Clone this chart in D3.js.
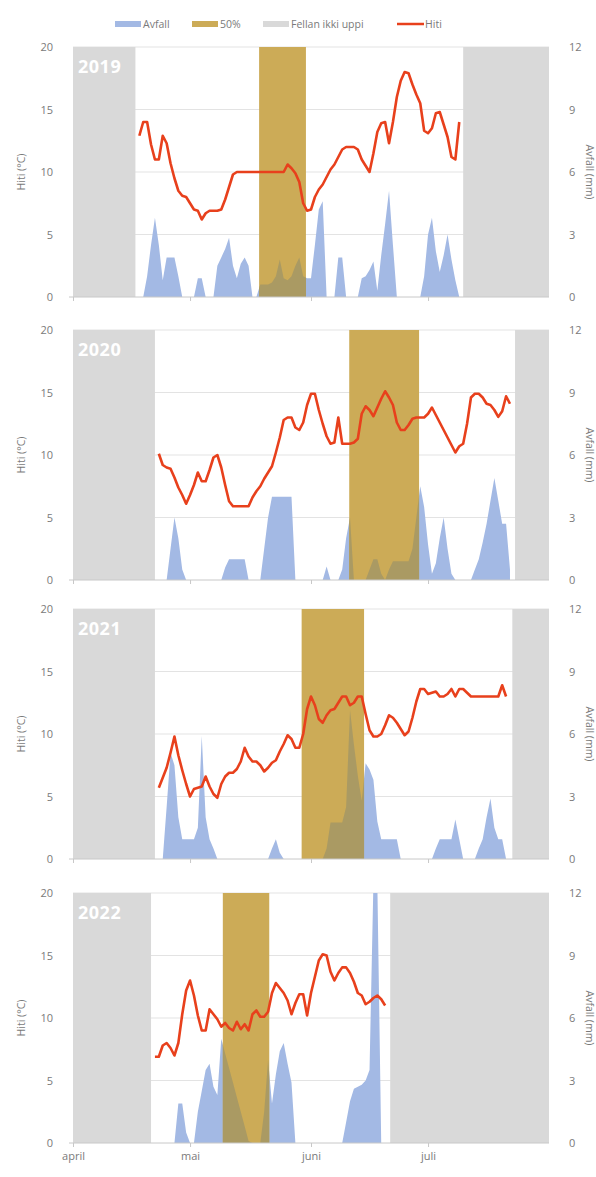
<!DOCTYPE html>
<html><head><meta charset="utf-8">
<script src="https://cdn.jsdelivr.net/npm/d3@7"></script>
<style>
html,body{margin:0;padding:0;background:#fff;}
svg text{font-family:"Open Sans","Noto Sans",sans-serif;fill:#7a7a7a;}
</style></head><body>
<svg id="c" width="596" height="1177"></svg>
<script>
// ---------------- data ----------------
const years = ["2019","2020","2021","2022"];
const monthLabels = ["april","mai","juni","juli"];
const monthStarts = ["04-01","05-01","06-01","07-01"];
const leftTicks = [0,5,10,15,20];
const rightTicks = [0,3,6,9,12];
const legendLabels = ["Avfall","50%","Fellan ikki uppi","Hiti"];

// first day with data (day count since 1 April) for each year
const dataStart = {"2019":17,"2020":22,"2021":22,"2022":21};
// periods "Fellan ikki uppi" (day counts since 1 April)
const notUpBefore = {"2019":16,"2020":21,"2021":21,"2022":20};
const notUpAfter  = {"2019":100,"2020":113.3,"2021":112.6,"2022":81.3};
// 50% period
const halfStart = {"2019":47.7,"2020":70.8,"2021":58.6,"2022":38.4};
const halfEnd   = {"2019":59.7,"2020":88.7,"2021":74.6,"2022":50.3};

const temp2019 = [12.9,14.0,14.0,12.2,11.0,11.0,12.9,12.3,10.7,9.5,8.5,8.1,8.0,7.5,7.0,6.9,6.2,6.7,6.9,6.9,6.9,7.0,7.8,8.8,9.8,
 10,10,10,10,10,10,10,10,10,10,10,10,10,10.6,10.3,9.9,9.2,7.5,6.9,7.0,8.0,8.6,9.0,9.6,10.2,10.6,11.2,11.8,12,12,12,11.8,11.0,10.5,10.0,
 11.5,13.2,13.9,14.0,12.3,14.0,16.0,17.3,18.0,17.9,17.0,16.2,15.5,13.3,13.1,13.5,14.7,14.8,13.8,12.8,11.2,11.0,14.0];
const rain2019 = [0,0,1.0,2.5,3.8,2.5,0.8,1.9,1.9,1.9,1.0,0,0,0,0,0.9,0.9,0,0,0,1.5,1.9,2.3,2.85,1.5,0.9,1.6,1.9,1.5,0,0,
 0.6,0.6,0.6,0.7,1.0,1.8,0.9,0.8,1.0,1.5,1.9,1.0,0.9,0.9,2.5,4.2,4.6,0,0,0,1.9,1.9,0,0,0,0,0.9,1.0,1.3,1.7,0.3,2.0,3.5,5.1,2.5,
 0,0,0,0,0,0,0,1.0,3.0,3.8,2.2,1.2,2.0,3.0,1.8,0.8,0];

const temp2020 = [10.1,9.2,9.0,8.9,8.2,7.4,6.8,6.1,6.8,7.6,8.6,7.9,7.9,8.8,9.8,10.0,9.0,7.6,6.3,5.9,5.9,5.9,5.9,5.9,6.6,7.1,7.5,8.1,8.6,9.1,
 10.2,11.4,12.8,13.0,13.0,12.2,12.0,12.6,14.0,14.9,14.9,13.6,12.5,11.5,10.9,11.0,13.0,10.9,10.9,10.9,11.0,11.3,13.3,13.9,13.6,13.1,13.8,14.5,15.1,14.6,
 14.0,12.6,12.0,12.0,12.4,12.9,13.0,13.0,13.0,13.3,13.8,13.2,12.6,12.0,11.4,10.8,10.2,10.7,10.9,12.5,14.6,14.9,14.9,14.6,14.1,14.0,13.6,13.05,13.5,14.7,14.1];
const rain2020 = [0,0,0,1.5,3.0,2.0,0.5,0,0,0,0,0,0,0,0,0,0,0.6,1.0,1.0,1.0,1.0,1.0,0,0,0,0,1.5,3.0,4.0,4.0,4.0,4.0,4.0,4.0,0,
 0,0,0,0,0,0,0,0.65,0,0,0,0.5,2.0,3.0,0,0,0,0,0.5,1.0,1.0,0.3,0,0.5,0.9,0.9,0.9,0.9,0.9,1.5,3.0,4.5,3.5,1.7,0.3,0.8,2.0,3.0,1.5,0.3,
 0,0,0,0,0,0.5,1.0,1.8,2.7,3.8,4.9,3.8,2.7,2.7,0.5];

const temp2021 = [5.7,6.5,7.3,8.5,9.8,8.3,7.1,6.0,5.0,5.6,5.7,5.8,6.6,5.8,5.2,4.9,6.0,6.6,6.9,6.9,7.2,7.8,8.9,8.2,7.8,7.8,7.5,7.0,7.3,7.7,
 7.9,8.6,9.2,9.9,9.6,8.9,8.9,10.0,12.0,13.0,12.3,11.2,10.9,11.5,11.9,12.0,12.5,13.0,13.0,12.3,12.5,13.0,13.0,11.6,10.3,9.8,9.8,10.0,10.7,11.5,
 11.3,10.9,10.4,9.9,10.2,11.3,12.6,13.6,13.6,13.2,13.3,13.4,13.0,13.0,13.2,13.6,13.0,13.6,13.6,13.3,13.0,13.0,13.0,13.0,13.0,13.0,13.0,13.0,13.9,13.0];
const rain2021 = [0,0,2.5,5.1,4.5,2.0,0.95,0.95,0.95,0.95,1.5,5.9,2.0,0.95,0.5,0,0,0,0,0,0,0,0,0,0,0,0,0,0,0.5,0.95,0.3,
 0,0,0,0,0,0,0,0,0,0,0,0.5,1.75,1.75,1.75,1.75,2.5,7.15,5.5,4.0,2.8,4.6,4.3,3.8,1.8,0.95,0.95,0.95,0.95,0.95,0,
 0,0,0,0,0,0,0,0,0.5,0.95,0.95,0.95,0.95,1.9,0.95,0,0,0,0,0.5,0.95,2.0,2.9,1.5,0.95,0.95,0];

const temp2022 = [6.9,6.9,7.8,8.0,7.6,7.0,8.0,10.3,12.2,13.0,11.8,10.2,9.0,9.0,10.7,10.3,9.9,9.3,9.6,9.2,9.0,9.7,9.1,9.5,9.0,10.3,10.6,10.1,10.1,10.5,
 12.0,12.8,12.4,12.0,11.4,10.3,11.2,11.9,11.9,10.2,12.0,13.3,14.6,15.1,15.0,13.7,13.0,13.6,14.05,14.05,13.6,12.9,12.0,11.8,11.1,11.3,11.6,11.8,11.5,11.0];
const rain2022 = [0,0,0,0,0,0,1.9,1.9,0.5,0,0,1.5,2.5,3.5,3.8,2.7,2.3,5.0,4.3,3.6,2.9,2.2,1.5,0.8,0.1,0,0,0,1.5,4.0,1.9,3.3,4.4,4.8,3.8,2.9,
 0,0,0,0,0,0,0,0,0,0,0,0,0,1.0,2.0,2.6,2.7,2.8,3.0,3.5,13,13,0];

const temps = {"2019":temp2019,"2020":temp2020,"2021":temp2021,"2022":temp2022};
const rains = {"2019":rain2019,"2020":rain2020,"2021":rain2021,"2022":rain2022};

// ---------------- layout ----------------
const svg = d3.select("#c");
const plotL = 73, plotR = 549;
const panelTops = [47, 330, 609, 893];
const panelH = 250;
const BLUE = "#a3b9e4", YELLOW = "#ccab57", OLIVE = "#aa9a63", GREY = "#d9d9d9", RED = "#e8401c";
const FONT = '"Open Sans","Noto Sans",sans-serif';

const season0 = new Date(Date.UTC(2000,3,1));
const season1 = new Date(Date.UTC(2000,7,1));
const x = d3.scaleUtc().domain([season0, season1]).range([plotL, plotR]);
const dayToDate = d => new Date(season0.getTime() + d*86400000);

// legend
const lg = svg.append("g").attr("transform","translate(0,24)");
const legendItems = [
  {x:115, kind:"rect", color:BLUE},
  {x:192, kind:"rect", color:YELLOW},
  {x:263, kind:"rect", color:GREY},
  {x:397, kind:"line", color:RED}
];
legendItems.forEach((it,i)=>{
  if(it.kind==="rect") lg.append("rect").attr("x",it.x).attr("y",-3).attr("width",26).attr("height",6).attr("fill",it.color);
  else lg.append("line").attr("x1",it.x).attr("x2",it.x+27).attr("y1",0).attr("y2",0).attr("stroke",it.color).attr("stroke-width",2.5);
  lg.append("text").attr("x",it.x+28).attr("y",3.5).attr("font-size",10.5).text(legendLabels[i]);
});

years.forEach((yr, pi) => {
  const top = panelTops[pi], bot = top + panelH;
  const yT = d3.scaleLinear().domain([0,20]).range([bot, top]);
  const yR = d3.scaleLinear().domain([0,12]).range([bot, top]);
  const g = svg.append("g");
  const clipId = "clip"+yr, clipHalf = "half"+yr;
  const hx0 = x(dayToDate(halfStart[yr])), hx1 = x(dayToDate(halfEnd[yr]));
  svg.append("clipPath").attr("id",clipId).append("rect")
    .attr("x",plotL).attr("y",top).attr("width",plotR-plotL).attr("height",panelH);
  svg.append("clipPath").attr("id",clipHalf).append("rect")
    .attr("x",hx0).attr("y",top).attr("width",hx1-hx0).attr("height",panelH);

  // gridlines
  g.selectAll(".grid").data(leftTicks.filter(t=>t>0)).join("line")
    .attr("x1",plotL).attr("x2",plotR).attr("y1",d=>yT(d)).attr("y2",d=>yT(d))
    .attr("stroke","#e3e3e3").attr("stroke-width",1);

  // rain area
  const rv = rains[yr], s0 = dataStart[yr];
  const rainPts = rv.map((v,i)=>({d:s0+i, v}));
  const area = d3.area().x(p=>x(dayToDate(p.d))).y0(bot).y1(p=>yR(Math.min(p.v,12.5)));
  g.append("path").datum(rainPts).attr("d",area).attr("fill",BLUE).attr("clip-path",`url(#${clipId})`);

  // not-up periods
  g.append("rect").attr("x",plotL).attr("y",top)
    .attr("width",x(dayToDate(notUpBefore[yr]))-plotL).attr("height",panelH).attr("fill",GREY);
  g.append("rect").attr("x",x(dayToDate(notUpAfter[yr]))).attr("y",top)
    .attr("width",plotR-x(dayToDate(notUpAfter[yr]))).attr("height",panelH).attr("fill",GREY);

  // 50% period with rain seen through it
  g.append("rect").attr("x",hx0).attr("y",top).attr("width",hx1-hx0).attr("height",panelH).attr("fill",YELLOW);
  g.append("path").datum(rainPts).attr("d",area).attr("fill",OLIVE).attr("clip-path",`url(#${clipHalf})`);

  // bottom axis line + ticks
  const xAxis = d3.axisBottom(x)
    .tickValues(monthStarts.map(m=>new Date("2000-"+m+"T00:00:00Z")))
    .tickSize(4).tickFormat((d,i)=> pi===3 ? monthLabels[i] : "");
  const ax = g.append("g").attr("transform",`translate(0,${bot})`).call(xAxis);
  ax.select(".domain").attr("stroke","#c8c8c8").attr("d",`M${plotL-4},0H${plotR}`);
  ax.selectAll(".tick line").attr("stroke","#c8c8c8");
  ax.selectAll(".tick text").attr("font-size",11).attr("dy","0.9em").attr("fill","#7a7a7a").style("font-family",FONT);

  // temperature line
  const tv = temps[yr];
  const tPts = tv.map((v,i)=>({d:s0+i, v}));
  const line = d3.line().x(p=>x(dayToDate(p.d))).y(p=>yT(p.v));
  g.append("path").datum(tPts).attr("d",line).attr("fill","none")
    .attr("stroke",RED).attr("stroke-width",2.6).attr("stroke-linejoin","round");

  // left axis
  const la = d3.axisLeft(yT).tickValues(leftTicks).tickSize(0).tickPadding(0);
  const lax = g.append("g").attr("transform",`translate(53,0)`).call(la);
  lax.select(".domain").remove();
  lax.selectAll("text").attr("font-size",11).attr("fill","#7a7a7a").style("font-family",FONT);
  // right axis
  const ra = d3.axisRight(yR).tickValues(rightTicks).tickSize(0).tickPadding(0);
  const rax = g.append("g").attr("transform",`translate(569,0)`).call(ra);
  rax.select(".domain").remove();
  rax.selectAll("text").attr("font-size",11).attr("fill","#7a7a7a").style("font-family",FONT);

  // axis titles
  const mid = (top+bot)/2;
  g.append("text").attr("transform",`translate(25,${mid}) rotate(-90)`).attr("text-anchor","middle")
    .attr("font-size",10.5).text("Hiti (°C)");
  g.append("text").attr("transform",`translate(586,${mid}) rotate(90)`).attr("text-anchor","middle")
    .attr("font-size",10.5).text("Avfall (mm)");

  // year label
  g.append("text").attr("x",78).attr("y",top+26).attr("font-size",18).attr("font-weight","bold")
    .attr("letter-spacing",0.5).style("fill","#ffffff").text(yr);
});
</script>
</body></html>
